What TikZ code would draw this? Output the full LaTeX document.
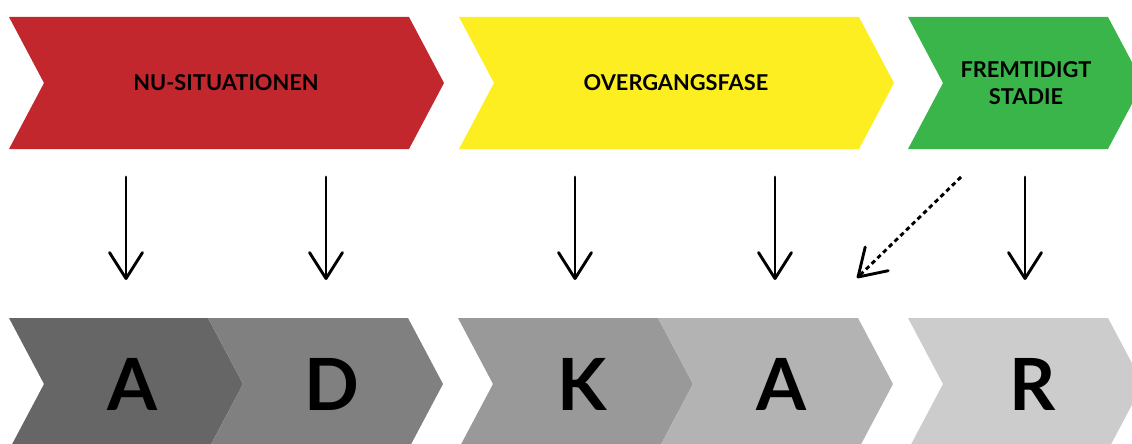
\documentclass[tikz,border=0pt]{standalone}
\usepackage{fontspec}
\setmainfont{Lato}
\usetikzlibrary{arrows.meta}
\definecolor{cred}{HTML}{C1272D}
\definecolor{cyellow}{HTML}{FCEE21}
\definecolor{cgreen}{HTML}{39B54A}
\definecolor{g1}{HTML}{666666}
\definecolor{g2}{HTML}{808080}
\definecolor{g3}{HTML}{999999}
\definecolor{g4}{HTML}{B3B3B3}
\definecolor{g5}{HTML}{CCCCCC}
\newcommand\chevpath[4]{\fill[#4] (#1,#2) -- ++(#3,0) -- ++(35,66) -- ++(-35,66) -- ++(-#3,0) -- ++(35,-66) -- cycle;}
\tikzset{
  toplabel/.style={font=\fontsize{21.8}{27}\selectfont\bfseries, text=black, align=center, inner sep=0pt},
  letter/.style={font=\fontsize{72}{80}\selectfont\bfseries, text=black, anchor=base, inner sep=0pt},
  arr/.style={line width=2.9pt, line cap=round, line join=round, -{Straight Barb[length=26pt,width=33pt,line join=round,line cap=round]}},
  dasharr/.style={arr, dash pattern=on 4.5pt off 3.5pt, line cap=butt}
}
\begin{document}
\begin{tikzpicture}[x=1pt,y=-1pt]
\useasboundingbox (0,0) rectangle (1132,444);
\clip (0,0) rectangle (1132,444);
% top chevrons
\chevpath{9}{17}{400}{cred}
\chevpath{459}{17}{400}{cyellow}
\chevpath{908}{17}{200}{cgreen}
% bottom chevrons
\chevpath{9}{318}{199}{g1}
\chevpath{208}{318}{200}{g2}
\chevpath{458}{318}{200}{g3}
\chevpath{658}{318}{200}{g4}
\chevpath{908}{318}{200}{g5}
% top labels
\node[toplabel] (nu) at (226,83) {NU-SITUATIONEN};
\node[toplabel] (ov) at (676,83) {OVERGANGSFASE};
\node[toplabel] (fs) at (1026,83) {FREMTIDIGT\\STADIE};
% letters
\node[letter] (la) at (132.5,410) {A};
\node[letter] (ld) at (331.7,410) {D};
\node[letter] (lk) at (582.5,410) {K};
\node[letter] (la2) at (781.7,410) {A};
\node[letter] (lr) at (1033,410) {R};
% arrows
\coordinate (s1) at (126,177); \coordinate (e1) at (126,280);
\coordinate (s2) at (326,177); \coordinate (e2) at (326,280);
\coordinate (s3) at (575,177); \coordinate (e3) at (575,280);
\coordinate (s4) at (775,177); \coordinate (e4) at (775,280);
\coordinate (s5) at (1025,177); \coordinate (e5) at (1025,280);
\coordinate (sd) at (961,177); \coordinate (ed) at (857,278);
\draw[arr] (s1) -- (e1);
\draw[arr] (s2) -- (e2);
\draw[arr] (s3) -- (e3);
\draw[arr] (s4) -- (e4);
\draw[arr] (s5) -- (e5);
\draw[dasharr] (sd) -- (ed);
\end{tikzpicture}
\end{document}
